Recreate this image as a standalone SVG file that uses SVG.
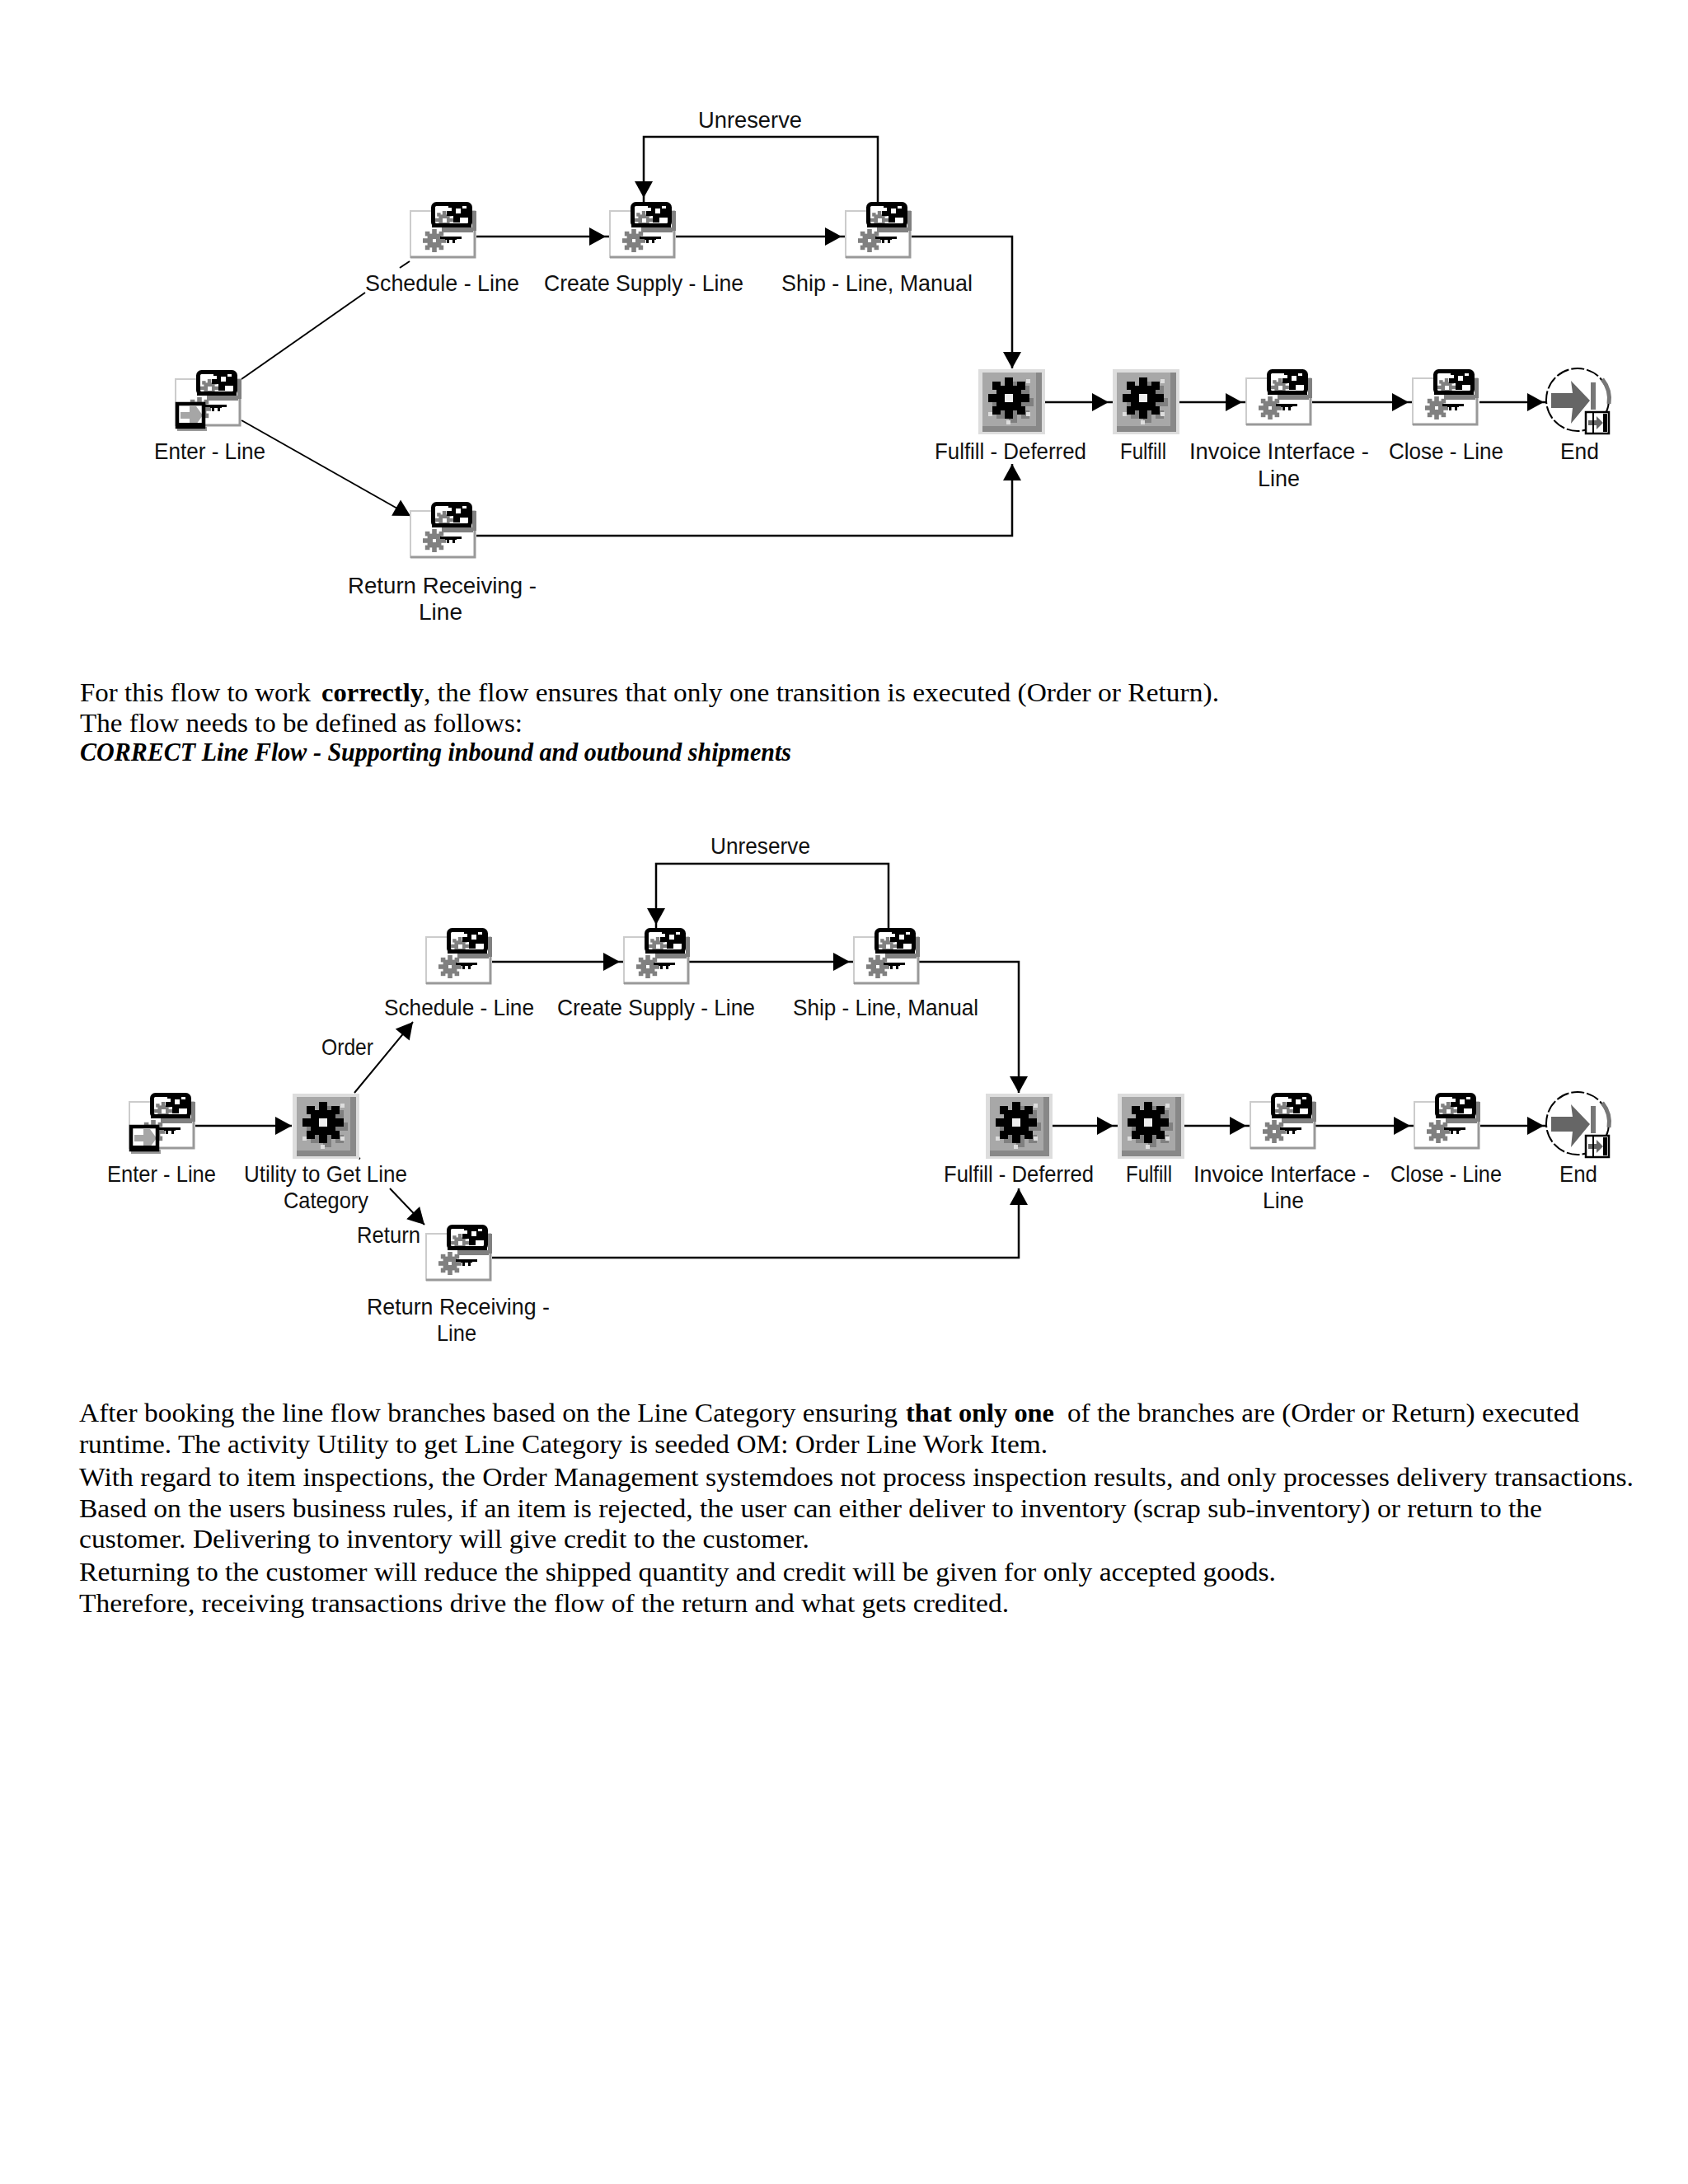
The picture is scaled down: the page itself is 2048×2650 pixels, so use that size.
<svg xmlns="http://www.w3.org/2000/svg" width="2048" height="2650" viewBox="0 0 2048 2650">
<style>
text{fill:#000}
.l{font-family:"Liberation Sans",Arial,sans-serif;font-size:28px;fill:#111}
.p{font-family:"Liberation Serif","Times New Roman",serif;font-size:32px}
.b{font-weight:700}
.bi{font-weight:700;font-style:italic}
.c{fill:none;stroke:#000;stroke-width:2.5}
.d{fill:none;stroke:#000;stroke-width:2}
.a{marker-end:url(#tip)}
.g{marker-end:url(#gap)}
</style>
<defs>
<marker id="tip" markerUnits="userSpaceOnUse" markerWidth="24" markerHeight="24" refX="20" refY="11" orient="auto" overflow="visible"><path d="M0,0L20,11L0,22Z" fill="#000"/></marker>
<marker id="gap" markerUnits="userSpaceOnUse" markerWidth="30" markerHeight="24" refX="25" refY="11" orient="auto" overflow="visible"><path d="M0,0L20,11L0,22Z" fill="#000"/></marker>
<g id="gear"><rect x="-5" y="-25" width="10" height="50"/><rect x="-25" y="-5" width="50" height="10"/><rect x="-15" y="-15" width="30" height="30"/><rect x="-20" y="-20" width="10" height="10"/><rect x="10" y="-20" width="10" height="10"/><rect x="-20" y="10" width="10" height="10"/><rect x="10" y="10" width="10" height="10"/></g>
<g id="act">
<rect x="0" y="0" width="78" height="56" fill="#fff" stroke="#ccc" stroke-width="2"/>
<path d="M0,56H78V20" fill="none" stroke="#999" stroke-width="3"/>
<use href="#gear" transform="translate(29,36) scale(.56)" fill="#808080"/>
<rect x="27" y="34" width="4" height="4" fill="#fff"/>
<rect x="38" y="20" width="38" height="6" fill="#808080"/>
<rect x="75" y="0" width="5" height="24" fill="#808080"/>
<rect x="36" y="31" width="26" height="3" fill="#000"/>
<rect x="42" y="31" width="14" height="4" fill="#000"/>
<rect x="44" y="34" width="3" height="5" fill="#000"/>
<rect x="51" y="34" width="3" height="5" fill="#000"/>
<rect x="27.5" y="-8.5" width="45" height="26" fill="#fff"/>
<use href="#gear" transform="translate(41,11) scale(.44)" fill="#808080"/>
<rect x="39" y="9" width="5" height="5" fill="#fff"/>
<path d="M46,-9H70V8H60V14H52V6H44V0H50V-4H46Z" fill="#000"/>
<rect x="55" y="-3" width="6" height="6" fill="#fff"/>
<rect x="63" y="-8" width="5" height="5" fill="#fff"/>
<rect x="27.5" y="-8.5" width="45" height="26" rx="4" fill="none" stroke="#000" stroke-width="5"/>
<rect x="26" y="15" width="48" height="5" fill="#000"/>
</g>
<g id="start">
<rect x="2" y="58" width="36" height="5" fill="#999"/>
<rect x="2" y="30" width="32" height="28" fill="#fff"/>
<path d="M6,40H17V33H25L33,44L25,55H17V48H6Z" fill="#a6a6a6"/>
<rect x="2" y="30" width="32" height="28" fill="none" stroke="#000" stroke-width="4.5"/>
<rect x="0" y="53" width="36" height="6" fill="#000"/>
</g>
<g id="fn">
<rect x="0" y="0" width="81" height="79" fill="#ddd"/>
<rect x="5" y="4" width="72" height="72" fill="#888"/>
<rect x="5" y="4" width="65" height="65" fill="#a8a8a8"/>
<use href="#gear" transform="translate(42,40)" fill="#808080"/>
<use href="#gear" transform="translate(37,35)" fill="#000"/>
<rect x="32" y="30" width="10" height="10" fill="#eee"/>
<rect x="58" y="12" width="5" height="5" fill="#ddd"/><rect x="12" y="52" width="5" height="5" fill="#ddd"/><rect x="58" y="52" width="5" height="5" fill="#ddd"/><rect x="34" y="62" width="5" height="5" fill="#ddd"/>
</g>
<g id="endi">
<circle r="38" fill="#fff" stroke="#000" stroke-width="2" stroke-dasharray="16 3"/>
<path d="M30,-25A39,39 0 0 1 38,5" fill="none" stroke="#777" stroke-width="5"/>
<path d="M-32,-8H-6L-8,-23L15,1L-8,29L-6,10H-32Z" fill="#666"/>
<rect x="16" y="-21" width="6" height="33" fill="#777"/>
<rect x="10" y="15" width="28" height="26" fill="#fff" stroke="#000" stroke-width="2.5"/>
<path d="M13,25H23V20L31,28L23,36V31H13Z" fill="#666"/>
<rect x="31" y="17" width="5" height="22" fill="#000"/>
<rect x="18" y="15" width="2" height="26" fill="#000"/>
</g>
</defs>
<rect width="2048" height="2650" fill="#fff"/>
<g id="connectors">
<path class="d" d="M293,460L443,355"/>
<path class="d" d="M485,325L497,317"/>
<path class="d a" d="M293,510L498,626"/>
<path class="c g" d="M578,287H740"/>
<path class="c g" d="M820,287H1026"/>
<path class="c a" d="M1106,287H1228V447"/>
<path class="c g" d="M1065,246V166H781V245"/>
<path class="c a" d="M578,650H1228V563"/>
<path class="c g" d="M1268,488H1350"/>
<path class="c g" d="M1431,488H1512"/>
<path class="c g" d="M1592,488H1714"/>
<path class="c g" d="M1795,488H1878"/>
<path class="c a" d="M237,1366H354"/>
<path class="d a" d="M430,1326L501,1240"/>
<path class="d" d="M435,1405L437,1406"/>
<path class="d a" d="M473,1442L515,1486"/>
<path class="c g" d="M597,1167H757"/>
<path class="c g" d="M836,1167H1036"/>
<path class="c a" d="M1115,1167H1236V1326"/>
<path class="c g" d="M1078,1126V1048H796V1127"/>
<path class="c a" d="M597,1526H1236V1442"/>
<path class="c g" d="M1276,1366H1356"/>
<path class="c g" d="M1436,1366H1517"/>
<path class="c g" d="M1596,1366H1716"/>
<path class="c g" d="M1796,1366H1878"/>
</g>
<g id="flow1-labels"><text class="l" x="847" y="155" textLength="126" lengthAdjust="spacingAndGlyphs">Unreserve</text></g>
<g id="n1-enter"><use href="#act" x="213" y="460"/><use href="#start" x="213" y="460"/><text class="l" x="187" y="557" textLength="135" lengthAdjust="spacingAndGlyphs">Enter - Line</text></g>
<g id="n1-schedule"><use href="#act" x="498" y="256"/><text class="l" x="443" y="353" textLength="187" lengthAdjust="spacingAndGlyphs">Schedule - Line</text></g>
<g id="n1-create"><use href="#act" x="740" y="256"/><text class="l" x="660" y="353" textLength="242" lengthAdjust="spacingAndGlyphs">Create Supply - Line</text></g>
<g id="n1-ship"><use href="#act" x="1026" y="256"/><text class="l" x="948" y="353" textLength="232" lengthAdjust="spacingAndGlyphs">Ship - Line, Manual</text></g>
<g id="n1-return"><use href="#act" x="498" y="620"/><text class="l" x="422" y="720" textLength="229" lengthAdjust="spacingAndGlyphs">Return Receiving -</text><text class="l" x="508" y="752" textLength="53" lengthAdjust="spacingAndGlyphs">Line</text></g>
<g id="n1-deferred"><use href="#fn" x="1187" y="448"/><text class="l" x="1134" y="557" textLength="184" lengthAdjust="spacingAndGlyphs">Fulfill - Deferred</text></g>
<g id="n1-fulfill"><use href="#fn" x="1350" y="448"/><text class="l" x="1359" y="557" textLength="56" lengthAdjust="spacingAndGlyphs">Fulfill</text></g>
<g id="n1-invoice"><use href="#act" x="1512" y="459"/><text class="l" x="1443" y="557" textLength="218" lengthAdjust="spacingAndGlyphs">Invoice Interface -</text><text class="l" x="1526" y="590" textLength="51" lengthAdjust="spacingAndGlyphs">Line</text></g>
<g id="n1-close"><use href="#act" x="1714" y="459"/><text class="l" x="1685" y="557" textLength="139" lengthAdjust="spacingAndGlyphs">Close - Line</text></g>
<g id="n1-end"><use href="#endi" x="1914" y="485"/><text class="l" x="1893" y="557" textLength="47" lengthAdjust="spacingAndGlyphs">End</text></g>
<g id="para1">
<text class="p" x="97" y="851" textLength="280" lengthAdjust="spacingAndGlyphs">For this flow to work</text>
<text class="p b" x="390" y="851" textLength="124" lengthAdjust="spacingAndGlyphs">correctly</text>
<text class="p" x="514" y="851" textLength="965" lengthAdjust="spacingAndGlyphs">, the flow ensures that only one transition is executed (Order or Return).</text>
<text class="p" x="97" y="888" textLength="537" lengthAdjust="spacingAndGlyphs">The flow needs to be defined as follows:</text>
<text class="p bi" x="97" y="923" textLength="863" lengthAdjust="spacingAndGlyphs">CORRECT Line Flow - Supporting inbound and outbound shipments</text>
</g>
<g id="flow2-labels"><text class="l" x="862" y="1036" textLength="121" lengthAdjust="spacingAndGlyphs">Unreserve</text><text class="l" x="390" y="1280" textLength="63" lengthAdjust="spacingAndGlyphs">Order</text><text class="l" x="433" y="1508" textLength="77" lengthAdjust="spacingAndGlyphs">Return</text></g>
<g id="n2-enter"><use href="#act" x="157" y="1337"/><use href="#start" x="157" y="1337"/><text class="l" x="130" y="1434" textLength="132" lengthAdjust="spacingAndGlyphs">Enter - Line</text></g>
<g id="n2-utility"><use href="#fn" x="355" y="1327"/><text class="l" x="296" y="1434" textLength="198" lengthAdjust="spacingAndGlyphs">Utility to Get Line</text><text class="l" x="344" y="1466" textLength="103" lengthAdjust="spacingAndGlyphs">Category</text></g>
<g id="n2-schedule"><use href="#act" x="517" y="1137"/><text class="l" x="466" y="1232" textLength="182" lengthAdjust="spacingAndGlyphs">Schedule - Line</text></g>
<g id="n2-create"><use href="#act" x="757" y="1137"/><text class="l" x="676" y="1232" textLength="240" lengthAdjust="spacingAndGlyphs">Create Supply - Line</text></g>
<g id="n2-ship"><use href="#act" x="1036" y="1137"/><text class="l" x="962" y="1232" textLength="225" lengthAdjust="spacingAndGlyphs">Ship - Line, Manual</text></g>
<g id="n2-return"><use href="#act" x="517" y="1497"/><text class="l" x="445" y="1595" textLength="222" lengthAdjust="spacingAndGlyphs">Return Receiving -</text><text class="l" x="530" y="1627" textLength="48" lengthAdjust="spacingAndGlyphs">Line</text></g>
<g id="n2-deferred"><use href="#fn" x="1196" y="1327"/><text class="l" x="1145" y="1434" textLength="182" lengthAdjust="spacingAndGlyphs">Fulfill - Deferred</text></g>
<g id="n2-fulfill"><use href="#fn" x="1356" y="1327"/><text class="l" x="1366" y="1434" textLength="56" lengthAdjust="spacingAndGlyphs">Fulfill</text></g>
<g id="n2-invoice"><use href="#act" x="1517" y="1337"/><text class="l" x="1448" y="1434" textLength="214" lengthAdjust="spacingAndGlyphs">Invoice Interface -</text><text class="l" x="1532" y="1466" textLength="50" lengthAdjust="spacingAndGlyphs">Line</text></g>
<g id="n2-close"><use href="#act" x="1716" y="1337"/><text class="l" x="1687" y="1434" textLength="135" lengthAdjust="spacingAndGlyphs">Close - Line</text></g>
<g id="n2-end"><use href="#endi" x="1914" y="1363"/><text class="l" x="1892" y="1434" textLength="46" lengthAdjust="spacingAndGlyphs">End</text></g>
<g id="para2">
<text class="p" x="96" y="1725" textLength="993" lengthAdjust="spacingAndGlyphs">After booking the line flow branches based on the Line Category ensuring</text>
<text class="p b" x="1099" y="1725" textLength="180" lengthAdjust="spacingAndGlyphs">that only one</text>
<text class="p" x="1295" y="1725" textLength="621" lengthAdjust="spacingAndGlyphs">of the branches are (Order or Return) executed</text>
<text class="p" x="96" y="1763" textLength="1175" lengthAdjust="spacingAndGlyphs">runtime. The activity Utility to get Line Category is seeded OM: Order Line Work Item.</text>
<text class="p" x="96" y="1803" textLength="1886" lengthAdjust="spacingAndGlyphs">With regard to item inspections, the Order Management systemdoes not process inspection results, and only processes delivery transactions.</text>
<text class="p" x="96" y="1841" textLength="1775" lengthAdjust="spacingAndGlyphs">Based on the users business rules, if an item is rejected, the user can either deliver to inventory (scrap sub-inventory) or return to the</text>
<text class="p" x="96" y="1878" textLength="886" lengthAdjust="spacingAndGlyphs">customer. Delivering to inventory will give credit to the customer.</text>
<text class="p" x="96" y="1918" textLength="1452" lengthAdjust="spacingAndGlyphs">Returning to the customer will reduce the shipped quantity and credit will be given for only accepted goods.</text>
<text class="p" x="96" y="1956" textLength="1128" lengthAdjust="spacingAndGlyphs">Therefore, receiving transactions drive the flow of the return and what gets credited.</text>
</g>
</svg>
